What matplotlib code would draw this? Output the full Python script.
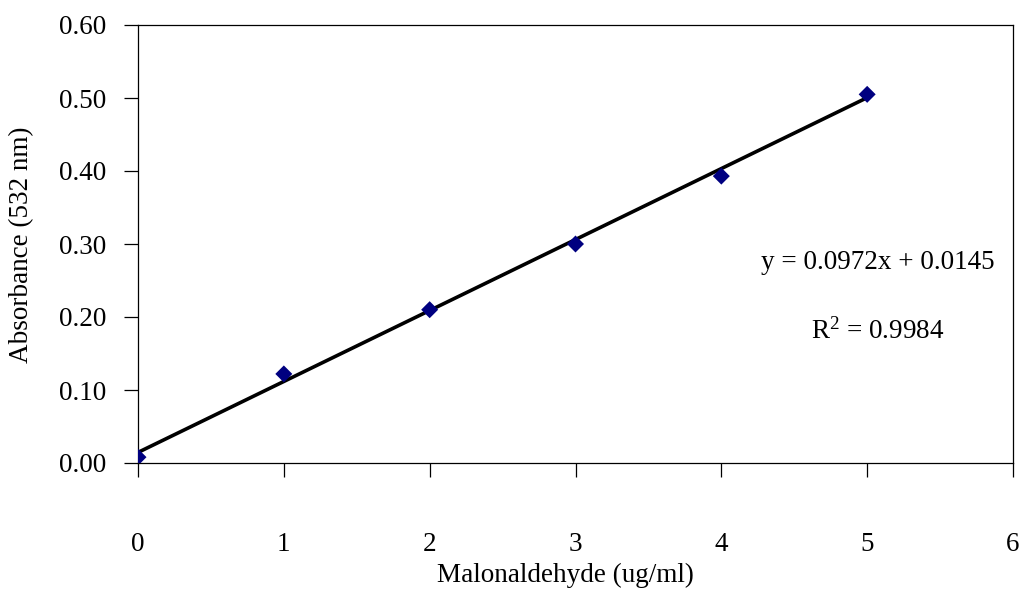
import matplotlib
matplotlib.use("Agg")
import matplotlib.pyplot as plt
import numpy as np

plt.rcParams['font.family'] = ['Liberation Serif', 'DejaVu Serif']
plt.rcParams['mathtext.fontset'] = 'custom'
plt.rcParams['mathtext.rm'] = 'Liberation Serif'
plt.rcParams['mathtext.it'] = 'Liberation Serif:italic'

conc = [0, 1, 2, 3, 4, 5]
absorb = [0.008, 0.122, 0.210, 0.300, 0.393, 0.505]
slope = 0.0972
intercept = 0.0145
r2 = 0.9984
xticks = [0, 1, 2, 3, 4, 5, 6]
yticks = [0.0, 0.1, 0.2, 0.3, 0.4, 0.5, 0.6]

FS = 19.5

fig = plt.figure(figsize=(10.23, 5.90), dpi=100)
ax = fig.add_axes([138/1023, 1-463/590, (1013-138)/1023, (463-25)/590])

xfit = np.array([conc[0], conc[-1]], dtype=float)
ax.plot(xfit, slope*xfit + intercept, color='black', lw=2.6, zorder=2)
ax.scatter(conc, absorb, marker='D', s=75, color='#000080', zorder=3, edgecolors='none')

ax.set_xlim(0, 6)
ax.set_ylim(0, 0.6)
ax.set_xticks(xticks)
ax.set_yticks(yticks)
ax.set_yticklabels([f"{v:.2f}" for v in yticks])
ax.tick_params(axis='both', direction='out', length=10, width=0.9, colors='black', labelsize=FS)
ax.tick_params(axis='y', pad=13)
ax.tick_params(axis='x', pad=40)
for s in ax.spines.values():
    s.set_linewidth(0.9)
    s.set_color('black')

ax.set_xlabel('Malonaldehyde (ug/ml)', fontsize=FS)
ax.xaxis.set_label_coords((565-138)/875, (463-563)/438)
ax.xaxis.label.set_va('top')
ax.set_ylabel('Absorbance (532 nm)', fontsize=FS)
ax.yaxis.set_label_coords((34-138)/875, 0.5 - (245-244)/438)

ax.text(5.075, 0.274, f"y = {slope}x + {intercept}", fontsize=FS, ha='center', va='center')
ax.text(5.075, 0.181, f"R$^{{2}}$ = {r2}", fontsize=FS, ha='center', va='center')

fig.savefig('out.png', dpi=100)
